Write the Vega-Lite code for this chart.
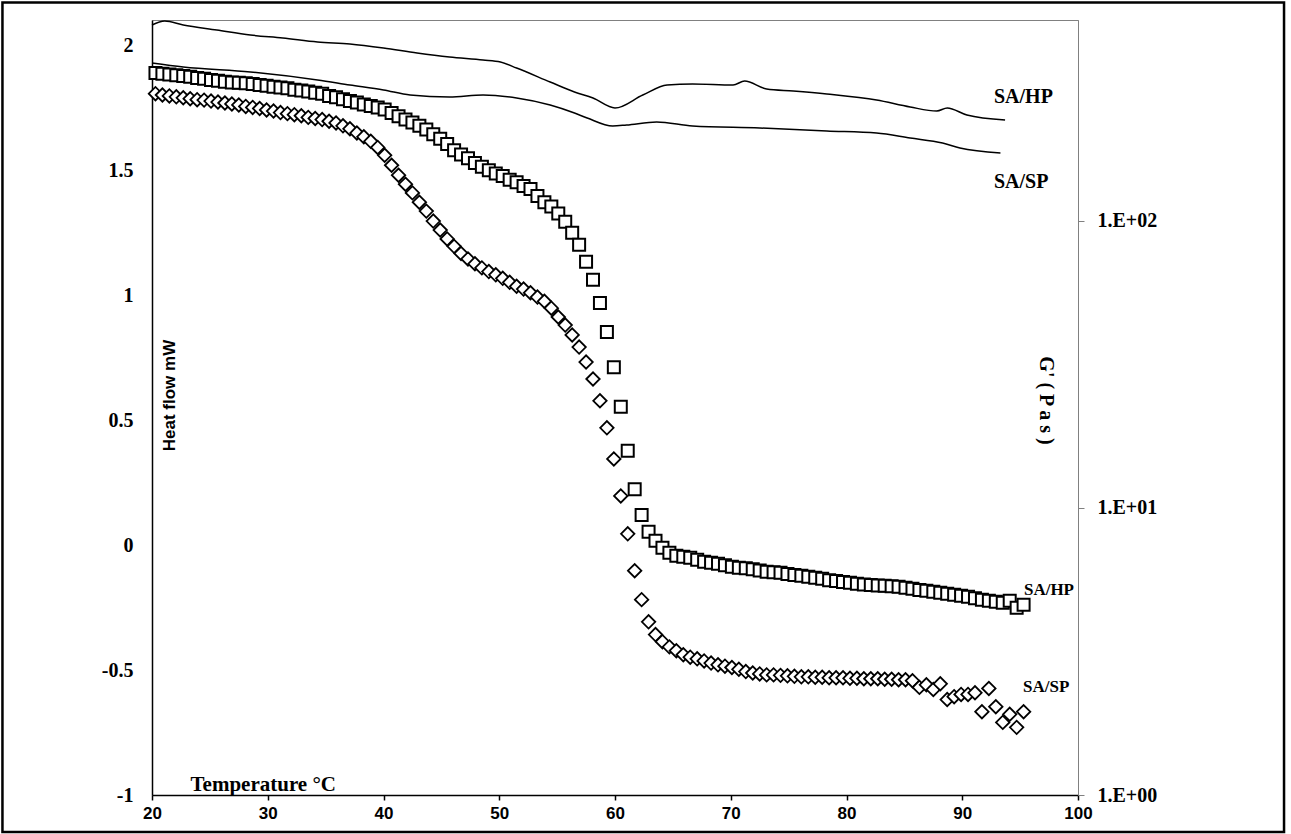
{
  "$schema": "https://vega.github.io/schema/vega-lite/v6.json",
  "width": 926,
  "height": 775,
  "autosize": {"type": "none"},
  "padding": {"left": 152, "top": 20, "right": 213, "bottom": 39},
  "background": "white",
  "config": {
    "view": {"stroke": "#808080", "strokeWidth": 1},
    "axis": {"grid": false, "labelFlush": false, "labelOverlap": false}
  },
  "datasets": {
    "dsc": [
      {"T": 20.0, "hf": 2.08, "s": "SA/HP"}, {"T": 21.1, "hf": 2.096, "s": "SA/HP"}, {"T": 22.7, "hf": 2.08, "s": "SA/HP"},
      {"T": 25.6, "hf": 2.06, "s": "SA/HP"}, {"T": 28.5, "hf": 2.04, "s": "SA/HP"}, {"T": 31.3, "hf": 2.028, "s": "SA/HP"},
      {"T": 34.3, "hf": 2.012, "s": "SA/HP"}, {"T": 37.1, "hf": 2.004, "s": "SA/HP"}, {"T": 40.0, "hf": 1.988, "s": "SA/HP"},
      {"T": 42.9, "hf": 1.968, "s": "SA/HP"}, {"T": 45.7, "hf": 1.952, "s": "SA/HP"}, {"T": 48.6, "hf": 1.94, "s": "SA/HP"},
      {"T": 50.1, "hf": 1.932, "s": "SA/HP"}, {"T": 51.5, "hf": 1.908, "s": "SA/HP"}, {"T": 54.4, "hf": 1.852, "s": "SA/HP"},
      {"T": 56.5, "hf": 1.812, "s": "SA/HP"}, {"T": 58.1, "hf": 1.788, "s": "SA/HP"}, {"T": 60.0, "hf": 1.748, "s": "SA/HP"},
      {"T": 62.4, "hf": 1.8, "s": "SA/HP"}, {"T": 64.5, "hf": 1.84, "s": "SA/HP"}, {"T": 66.7, "hf": 1.844, "s": "SA/HP"},
      {"T": 70.2, "hf": 1.84, "s": "SA/HP"}, {"T": 71.2, "hf": 1.856, "s": "SA/HP"}, {"T": 73.1, "hf": 1.824, "s": "SA/HP"},
      {"T": 75.4, "hf": 1.816, "s": "SA/HP"}, {"T": 78.3, "hf": 1.804, "s": "SA/HP"}, {"T": 82.6, "hf": 1.78, "s": "SA/HP"},
      {"T": 85.5, "hf": 1.752, "s": "SA/HP"}, {"T": 87.8, "hf": 1.736, "s": "SA/HP"}, {"T": 88.7, "hf": 1.748, "s": "SA/HP"},
      {"T": 90.4, "hf": 1.72, "s": "SA/HP"}, {"T": 93.7, "hf": 1.7, "s": "SA/HP"},
      {"T": 20.0, "hf": 1.928, "s": "SA/SP"}, {"T": 22.7, "hf": 1.912, "s": "SA/SP"}, {"T": 28.5, "hf": 1.892, "s": "SA/SP"},
      {"T": 34.3, "hf": 1.86, "s": "SA/SP"}, {"T": 37.1, "hf": 1.84, "s": "SA/SP"}, {"T": 40.0, "hf": 1.82, "s": "SA/SP"},
      {"T": 42.3, "hf": 1.8, "s": "SA/SP"}, {"T": 45.7, "hf": 1.792, "s": "SA/SP"}, {"T": 48.6, "hf": 1.8, "s": "SA/SP"},
      {"T": 51.5, "hf": 1.788, "s": "SA/SP"}, {"T": 54.4, "hf": 1.76, "s": "SA/SP"}, {"T": 56.5, "hf": 1.728, "s": "SA/SP"},
      {"T": 57.6, "hf": 1.708, "s": "SA/SP"}, {"T": 59.8, "hf": 1.676, "s": "SA/SP"}, {"T": 61.0, "hf": 1.68, "s": "SA/SP"},
      {"T": 63.6, "hf": 1.692, "s": "SA/SP"}, {"T": 66.7, "hf": 1.676, "s": "SA/SP"}, {"T": 72.5, "hf": 1.668, "s": "SA/SP"},
      {"T": 78.3, "hf": 1.656, "s": "SA/SP"}, {"T": 82.6, "hf": 1.648, "s": "SA/SP"}, {"T": 85.5, "hf": 1.628, "s": "SA/SP"},
      {"T": 88.3, "hf": 1.608, "s": "SA/SP"}, {"T": 89.8, "hf": 1.588, "s": "SA/SP"}, {"T": 93.3, "hf": 1.568, "s": "SA/SP"}
    ],
    "hp": [
      {"T": 20.3, "G": 327}, {"T": 20.9, "G": 325}, {"T": 21.5, "G": 323}, {"T": 22.1, "G": 321}, {"T": 22.7, "G": 319},
      {"T": 23.3, "G": 317}, {"T": 23.9, "G": 314}, {"T": 24.5, "G": 312}, {"T": 25.1, "G": 309}, {"T": 25.7, "G": 307},
      {"T": 26.3, "G": 305}, {"T": 26.9, "G": 303}, {"T": 27.5, "G": 302}, {"T": 28.1, "G": 301}, {"T": 28.7, "G": 299},
      {"T": 29.3, "G": 297}, {"T": 29.9, "G": 295}, {"T": 30.5, "G": 293}, {"T": 31.1, "G": 291}, {"T": 31.7, "G": 289},
      {"T": 32.3, "G": 286}, {"T": 32.9, "G": 284}, {"T": 33.5, "G": 282}, {"T": 34.1, "G": 279}, {"T": 34.7, "G": 277},
      {"T": 35.3, "G": 272}, {"T": 35.9, "G": 269}, {"T": 36.5, "G": 265}, {"T": 37.1, "G": 261}, {"T": 37.7, "G": 258},
      {"T": 38.3, "G": 254}, {"T": 38.9, "G": 251}, {"T": 39.5, "G": 248}, {"T": 40.1, "G": 244}, {"T": 40.7, "G": 237},
      {"T": 41.3, "G": 231}, {"T": 41.9, "G": 225}, {"T": 42.5, "G": 220}, {"T": 43.1, "G": 214}, {"T": 43.7, "G": 208},
      {"T": 44.3, "G": 200}, {"T": 44.9, "G": 193}, {"T": 45.5, "G": 185}, {"T": 46.1, "G": 176}, {"T": 46.7, "G": 170},
      {"T": 47.3, "G": 165}, {"T": 47.9, "G": 159}, {"T": 48.5, "G": 154}, {"T": 49.1, "G": 150}, {"T": 49.7, "G": 146},
      {"T": 50.3, "G": 143}, {"T": 50.9, "G": 139}, {"T": 51.5, "G": 136}, {"T": 52.1, "G": 132}, {"T": 52.7, "G": 129},
      {"T": 53.3, "G": 122}, {"T": 53.9, "G": 116}, {"T": 54.5, "G": 112}, {"T": 55.1, "G": 106}, {"T": 55.7, "G": 99.2},
      {"T": 56.3, "G": 90.8}, {"T": 56.9, "G": 82.5}, {"T": 57.5, "G": 72.0}, {"T": 58.1, "G": 62.3}, {"T": 58.7, "G": 51.7},
      {"T": 59.3, "G": 41.0}, {"T": 59.9, "G": 30.9}, {"T": 60.5, "G": 22.5}, {"T": 61.1, "G": 15.8}, {"T": 61.7, "G": 11.6},
      {"T": 62.3, "G": 9.45}, {"T": 62.9, "G": 8.25}, {"T": 63.5, "G": 7.68}, {"T": 64.1, "G": 7.26}, {"T": 64.7, "G": 6.97},
      {"T": 65.3, "G": 6.81}, {"T": 65.9, "G": 6.75}, {"T": 66.5, "G": 6.70}, {"T": 67.1, "G": 6.59}, {"T": 67.7, "G": 6.49},
      {"T": 68.3, "G": 6.44}, {"T": 68.9, "G": 6.39}, {"T": 69.5, "G": 6.31}, {"T": 70.1, "G": 6.23}, {"T": 70.7, "G": 6.19},
      {"T": 71.3, "G": 6.16}, {"T": 71.9, "G": 6.11}, {"T": 72.5, "G": 6.05}, {"T": 73.1, "G": 5.99}, {"T": 73.7, "G": 5.97},
      {"T": 74.3, "G": 5.94}, {"T": 74.9, "G": 5.88}, {"T": 75.5, "G": 5.84}, {"T": 76.1, "G": 5.80}, {"T": 76.7, "G": 5.75},
      {"T": 77.3, "G": 5.71}, {"T": 77.9, "G": 5.66}, {"T": 78.5, "G": 5.60}, {"T": 79.1, "G": 5.56}, {"T": 79.7, "G": 5.52},
      {"T": 80.3, "G": 5.48}, {"T": 80.9, "G": 5.44}, {"T": 81.5, "G": 5.41}, {"T": 82.1, "G": 5.39}, {"T": 82.7, "G": 5.37},
      {"T": 83.3, "G": 5.35}, {"T": 83.9, "G": 5.33}, {"T": 84.5, "G": 5.31}, {"T": 85.1, "G": 5.27}, {"T": 85.7, "G": 5.23},
      {"T": 86.3, "G": 5.18}, {"T": 86.9, "G": 5.14}, {"T": 87.5, "G": 5.10}, {"T": 88.1, "G": 5.06}, {"T": 88.7, "G": 5.02},
      {"T": 89.3, "G": 4.98}, {"T": 89.9, "G": 4.94}, {"T": 90.5, "G": 4.90}, {"T": 91.1, "G": 4.84}, {"T": 91.7, "G": 4.79},
      {"T": 92.3, "G": 4.75}, {"T": 92.9, "G": 4.71}, {"T": 93.5, "G": 4.67}, {"T": 94.1, "G": 4.75}, {"T": 94.7, "G": 4.49},
      {"T": 95.3, "G": 4.60}
    ],
    "sp": [
      {"T": 20.3, "G": 277}, {"T": 20.9, "G": 274}, {"T": 21.5, "G": 272}, {"T": 22.1, "G": 270}, {"T": 22.7, "G": 268},
      {"T": 23.3, "G": 266}, {"T": 23.9, "G": 264}, {"T": 24.5, "G": 263}, {"T": 25.1, "G": 261}, {"T": 25.7, "G": 259},
      {"T": 26.3, "G": 257}, {"T": 26.9, "G": 255}, {"T": 27.5, "G": 253}, {"T": 28.1, "G": 250}, {"T": 28.7, "G": 248},
      {"T": 29.3, "G": 246}, {"T": 29.9, "G": 243}, {"T": 30.5, "G": 241}, {"T": 31.1, "G": 238}, {"T": 31.7, "G": 236},
      {"T": 32.3, "G": 234}, {"T": 32.9, "G": 232}, {"T": 33.5, "G": 229}, {"T": 34.1, "G": 227}, {"T": 34.7, "G": 225},
      {"T": 35.3, "G": 222}, {"T": 35.9, "G": 219}, {"T": 36.5, "G": 214}, {"T": 37.1, "G": 209}, {"T": 37.7, "G": 202},
      {"T": 38.3, "G": 196}, {"T": 38.9, "G": 189}, {"T": 39.5, "G": 180}, {"T": 40.1, "G": 169}, {"T": 40.7, "G": 156},
      {"T": 41.3, "G": 144}, {"T": 41.9, "G": 134}, {"T": 42.5, "G": 125}, {"T": 43.1, "G": 116}, {"T": 43.7, "G": 108},
      {"T": 44.3, "G": 99.7}, {"T": 44.9, "G": 92.8}, {"T": 45.5, "G": 86.4}, {"T": 46.1, "G": 81.4}, {"T": 46.7, "G": 76.9},
      {"T": 47.3, "G": 73.6}, {"T": 47.9, "G": 70.8}, {"T": 48.5, "G": 68.5}, {"T": 49.1, "G": 66.5}, {"T": 49.7, "G": 64.8},
      {"T": 50.3, "G": 63.0}, {"T": 50.9, "G": 61.0}, {"T": 51.5, "G": 59.1}, {"T": 52.1, "G": 57.8}, {"T": 52.7, "G": 56.1},
      {"T": 53.3, "G": 54.2}, {"T": 53.9, "G": 52.4}, {"T": 54.5, "G": 49.6}, {"T": 55.1, "G": 46.2}, {"T": 55.7, "G": 43.3},
      {"T": 56.3, "G": 40.0}, {"T": 56.9, "G": 36.3}, {"T": 57.5, "G": 32.2}, {"T": 58.1, "G": 28.1}, {"T": 58.7, "G": 23.6},
      {"T": 59.3, "G": 19.0}, {"T": 59.9, "G": 14.8}, {"T": 60.5, "G": 11.0}, {"T": 61.1, "G": 8.12}, {"T": 61.7, "G": 6.04},
      {"T": 62.3, "G": 4.79}, {"T": 62.9, "G": 4.01}, {"T": 63.5, "G": 3.62}, {"T": 64.1, "G": 3.42}, {"T": 64.7, "G": 3.28},
      {"T": 65.3, "G": 3.18}, {"T": 65.9, "G": 3.08}, {"T": 66.5, "G": 3.02}, {"T": 67.1, "G": 2.98}, {"T": 67.7, "G": 2.93},
      {"T": 68.3, "G": 2.88}, {"T": 68.9, "G": 2.84}, {"T": 69.5, "G": 2.81}, {"T": 70.1, "G": 2.78}, {"T": 70.7, "G": 2.74},
      {"T": 71.3, "G": 2.69}, {"T": 71.9, "G": 2.66}, {"T": 72.5, "G": 2.64}, {"T": 73.1, "G": 2.62}, {"T": 73.7, "G": 2.62},
      {"T": 74.3, "G": 2.61}, {"T": 74.9, "G": 2.60}, {"T": 75.5, "G": 2.59}, {"T": 76.1, "G": 2.58}, {"T": 76.7, "G": 2.58},
      {"T": 77.3, "G": 2.57}, {"T": 77.9, "G": 2.57}, {"T": 78.5, "G": 2.56}, {"T": 79.1, "G": 2.56}, {"T": 79.7, "G": 2.56},
      {"T": 80.3, "G": 2.55}, {"T": 80.9, "G": 2.55}, {"T": 81.5, "G": 2.54}, {"T": 82.1, "G": 2.54}, {"T": 82.7, "G": 2.54},
      {"T": 83.3, "G": 2.53}, {"T": 83.9, "G": 2.53}, {"T": 84.5, "G": 2.52}, {"T": 85.1, "G": 2.52}, {"T": 85.7, "G": 2.50},
      {"T": 86.3, "G": 2.37}, {"T": 86.9, "G": 2.42}, {"T": 87.5, "G": 2.33}, {"T": 88.1, "G": 2.44}, {"T": 88.7, "G": 2.15},
      {"T": 89.3, "G": 2.20}, {"T": 89.9, "G": 2.24}, {"T": 90.5, "G": 2.24}, {"T": 91.1, "G": 2.27}, {"T": 91.7, "G": 1.95},
      {"T": 92.3, "G": 2.35}, {"T": 92.9, "G": 2.03}, {"T": 93.5, "G": 1.79}, {"T": 94.1, "G": 1.91}, {"T": 94.7, "G": 1.72},
      {"T": 95.3, "G": 1.95}
    ]
  },
  "layer": [
    {
      "layer": [
        {
          "data": {"name": "dsc"},
          "mark": {"type": "line", "color": "black", "strokeWidth": 1.5, "interpolate": "monotone"},
          "encoding": {
            "x": {
              "field": "T", "type": "quantitative",
              "scale": {"domain": [20, 100], "nice": false, "zero": false},
              "axis": {
                "values": [20, 30, 40, 50, 60, 70, 80, 90, 100],
                "domainColor": "black", "domainWidth": 1.5,
                "tickColor": "black", "tickWidth": 1.5, "tickSize": 5,
                "labelFont": "Liberation Sans", "labelFontSize": 17, "labelFontWeight": "bold", "labelColor": "black", "labelPadding": 5,
                "title": "Temperature °C",
                "titleFont": "Liberation Serif", "titleFontSize": 21, "titleFontWeight": "bold", "titleColor": "black",
                "titleX": 38, "titleY": -5, "titleAlign": "left", "titleBaseline": "alphabetic"
              }
            },
            "y": {
              "field": "hf", "type": "quantitative",
              "scale": {"domain": [-1, 2.1], "nice": false, "zero": false},
              "axis": {
                "orient": "left",
                "values": [-1, -0.5, 0, 0.5, 1, 1.5, 2],
                "labelExpr": "'' + datum.value",
                "ticks": false, "tickSize": 0,
                "domainColor": "black", "domainWidth": 1.5,
                "labelFont": "Liberation Serif", "labelFontSize": 20, "labelFontWeight": "bold", "labelColor": "black", "labelPadding": 19,
                "title": "Heat flow mW",
                "titleFont": "Liberation Sans", "titleFontSize": 17, "titleFontWeight": "bold", "titleColor": "black",
                "titleAngle": 270, "titleX": 17, "titleY": 375, "titleAlign": "center", "titleBaseline": "middle"
              }
            },
            "detail": {"field": "s", "type": "nominal"}
          }
        },
        {
          "description": "Outer frame around the whole figure",
          "data": {"values": [{}]},
          "mark": {"type": "rect", "filled": false, "stroke": "black", "strokeWidth": 2.5},
          "encoding": {
            "x": {"datum": 7.08, "type": "quantitative", "scale": {"domain": [20, 100], "nice": false, "zero": false}},
            "x2": {"datum": 117.8},
            "y": {"datum": 2.17, "type": "quantitative", "scale": {"domain": [-1, 2.1], "nice": false, "zero": false}},
            "y2": {"datum": -1.148}
          }
        },
        {
          "data": {"values": [{}]},
          "mark": {"type": "text", "align": "left", "baseline": "middle", "font": "Liberation Serif", "fontSize": 20, "fontWeight": "bold", "color": "black"},
          "encoding": {
            "x": {"datum": 92.74, "type": "quantitative"},
            "y": {"datum": 1.792, "type": "quantitative"},
            "text": {"value": "SA/HP"}
          }
        },
        {
          "data": {"values": [{}]},
          "mark": {"type": "text", "align": "left", "baseline": "middle", "font": "Liberation Serif", "fontSize": 20, "fontWeight": "bold", "color": "black"},
          "encoding": {
            "x": {"datum": 92.74, "type": "quantitative"},
            "y": {"datum": 1.452, "type": "quantitative"},
            "text": {"value": "SA/SP"}
          }
        }
      ]
    },
    {
      "layer": [
        {
          "data": {"name": "hp"},
          "mark": {"type": "point", "shape": "square", "filled": true, "fill": "white", "stroke": "black", "strokeWidth": 2, "size": 144, "opacity": 1},
          "encoding": {
            "x": {"field": "T", "type": "quantitative", "scale": {"domain": [20, 100], "nice": false, "zero": false}},
            "y": {
              "field": "G", "type": "quantitative",
              "scale": {"type": "log", "domain": [1, 500], "nice": false},
              "axis": {
                "orient": "right",
                "values": [1, 10, 100],
                "labelExpr": "'1.E+0' + format(log(datum.value) / LN10, '.0f')",
                "tickSize": 6, "tickColor": "#808080", "domainColor": "#808080",
                "labelFont": "Liberation Serif", "labelFontSize": 20, "labelFontWeight": "bold", "labelColor": "black", "labelPadding": 13,
                "title": "G' ( P a s )",
                "titleFont": "Liberation Serif", "titleFontSize": 20, "titleFontWeight": "bold", "titleColor": "black",
                "titleAngle": 90, "titleX": -33, "titleY": 380, "titleAlign": "center", "titleBaseline": "middle"
              }
            }
          }
        },
        {
          "data": {"name": "sp"},
          "mark": {"type": "point", "shape": "diamond", "filled": true, "fill": "white", "stroke": "black", "strokeWidth": 1.8, "size": 180, "opacity": 1},
          "encoding": {
            "x": {"field": "T", "type": "quantitative"},
            "y": {"field": "G", "type": "quantitative"}
          }
        },
        {
          "data": {"values": [{}]},
          "mark": {"type": "text", "align": "left", "baseline": "middle", "font": "Liberation Serif", "fontSize": 17, "fontWeight": "bold", "color": "black"},
          "encoding": {
            "x": {"datum": 95.33, "type": "quantitative"},
            "y": {"datum": 5.18, "type": "quantitative"},
            "text": {"value": "SA/HP"}
          }
        },
        {
          "data": {"values": [{}]},
          "mark": {"type": "text", "align": "left", "baseline": "middle", "font": "Liberation Serif", "fontSize": 17, "fontWeight": "bold", "color": "black"},
          "encoding": {
            "x": {"datum": 95.25, "type": "quantitative"},
            "y": {"datum": 2.38, "type": "quantitative"},
            "text": {"value": "SA/SP"}
          }
        }
      ]
    }
  ],
  "resolve": {"scale": {"y": "independent"}, "axis": {"y": "independent"}}
}
